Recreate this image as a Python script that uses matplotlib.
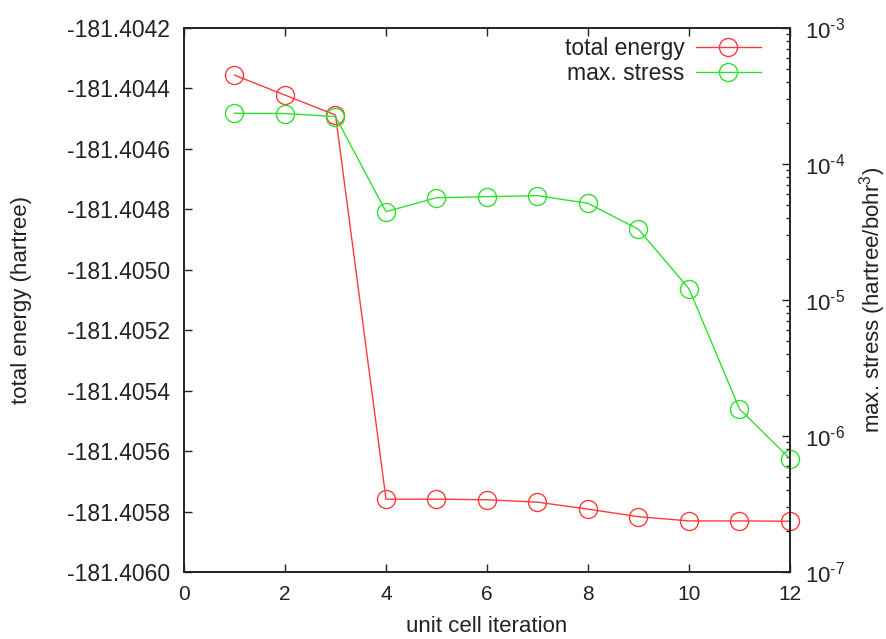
import matplotlib
matplotlib.use("Agg")
import math
import matplotlib.pyplot as plt
from matplotlib.ticker import (FormatStrFormatter, LogLocator, FuncFormatter,
                               NullFormatter, MultipleLocator)

plt.rcParams['font.family'] = ['Liberation Sans', 'DejaVu Sans']
plt.rcParams['mathtext.fontset'] = 'custom'
plt.rcParams['mathtext.rm'] = 'Liberation Sans'
plt.rcParams['mathtext.it'] = 'Liberation Sans:italic'
plt.rcParams['mathtext.bf'] = 'Liberation Sans:bold'
plt.rcParams['axes.unicode_minus'] = False

iteration = [1, 2, 3, 4, 5, 6, 7, 8, 9, 10, 11, 12]
total_energy = [-181.404356, -181.404422, -181.404488, -181.405759, -181.405759,
                -181.405761, -181.405769, -181.405792, -181.405817, -181.405831,
                -181.405831, -181.405832]
max_stress = [2.36e-4, 2.35e-4, 2.23e-4, 4.46e-5, 5.65e-5, 5.75e-5, 5.85e-5,
              5.14e-5, 3.31e-5, 1.21e-5, 1.58e-6, 6.8e-7]

FS_TICK = 15
FS_LAB = 16
red = '#ff3a3a'
green = '#2ee02e'
dark = '#222222'

fig = plt.figure(figsize=(8.87, 6.39), dpi=100)
ax = fig.add_axes([184/887, 1-572/639, (790-184)/887, (572-28)/639])
ax2 = ax.twinx()

l1, = ax.plot(iteration, total_energy, color=red, lw=1, marker='o', ms=13,
              mfc='none', mec=red, mew=1, label='total energy', clip_on=False)
l2, = ax2.plot(iteration, max_stress, color=green, lw=1, marker='o', ms=13,
               mfc='none', mec=green, mew=1, label='max. stress', clip_on=False)

ax.set_xlim(0, 12)
ax.set_ylim(-181.4060, -181.4042)
ax.xaxis.set_major_locator(MultipleLocator(2))
ax.yaxis.set_major_locator(MultipleLocator(0.0002))
ax.yaxis.set_major_formatter(FormatStrFormatter('%.4f'))
ax.tick_params(axis='x', direction='in', top=True, length=6, width=1,
               labelsize=FS_TICK, pad=9, colors=dark)
ax.tick_params(axis='y', direction='in', right=False, length=6, width=1,
               labelsize=16.5, pad=10, colors=dark)


def log_fmt(v, pos):
    k = int(round(math.log10(v)))
    if k < 0:
        return r'$10^{\text{-}%d}$' % (-k)
    return r'$10^{%d}$' % k


ax2.set_yscale('log')
ax2.set_ylim(1e-7, 1e-3)
ax2.yaxis.set_major_locator(LogLocator(base=10, numticks=10))
ax2.yaxis.set_minor_locator(LogLocator(base=10, subs=range(2, 10), numticks=20))
ax2.yaxis.set_major_formatter(FuncFormatter(log_fmt))
ax2.yaxis.set_minor_formatter(NullFormatter())
ax2.tick_params(axis='y', which='major', direction='in', length=6, width=1,
                labelsize=16, pad=11, colors=dark)
ax2.tick_params(axis='y', which='minor', direction='in', length=3, width=1,
                colors=dark)

for a in (ax, ax2):
    for s in a.spines.values():
        s.set_color(dark)
        s.set_linewidth(1.2)

ax.set_xlabel('unit cell iteration', fontsize=FS_LAB, color=dark, labelpad=9)
ax.set_ylabel('total energy (hartree)', fontsize=FS_LAB, color=dark, labelpad=25)
ax2.set_ylabel('max. stress (hartree/bohr$^3$)', fontsize=FS_LAB, color=dark,
               rotation=90, labelpad=8)

leg = ax2.legend(handles=[l1, l2], loc='upper right', bbox_to_anchor=(0.975, 1.008),
                 frameon=False, markerfirst=False, fontsize=16.5, handlelength=2.85,
                 handletextpad=0.5, labelspacing=0.05, borderaxespad=0.2)
for t in leg.get_texts():
    t.set_color(dark)

fig.savefig('out.png', dpi=100)
